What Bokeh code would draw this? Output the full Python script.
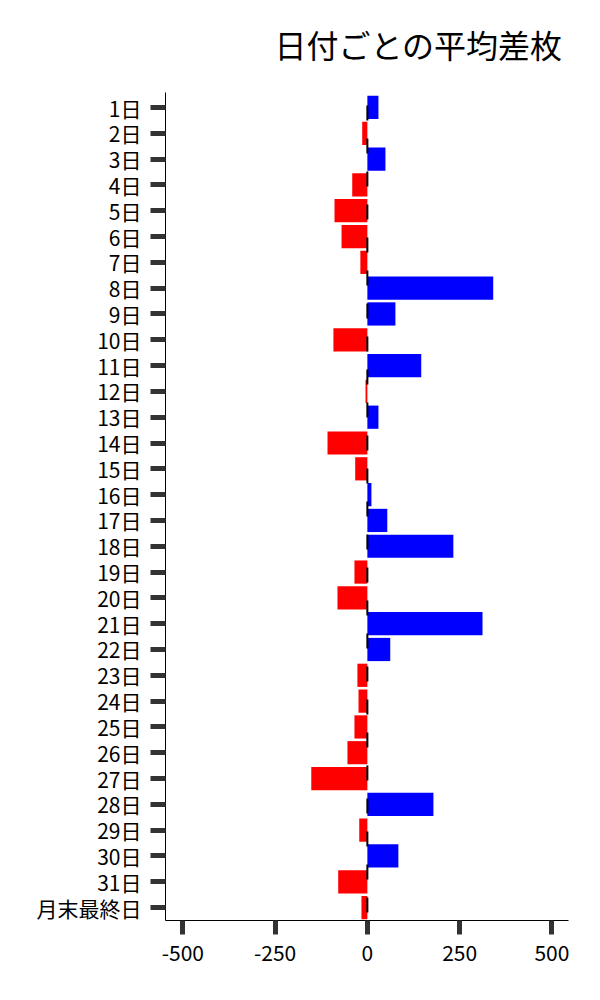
from bokeh.plotting import figure
from bokeh.models import Range1d, FixedTicker, Span, ColumnDataSource, Label
from bokeh.layouts import column
from bokeh.embed import file_html
from bokeh.resources import INLINE

days = ["1日", "2日", "3日", "4日", "5日", "6日", "7日", "8日", "9日", "10日",
        "11日", "12日", "13日", "14日", "15日", "16日", "17日", "18日", "19日", "20日",
        "21日", "22日", "23日", "24日", "25日", "26日", "27日", "28日", "29日", "30日",
        "31日", "月末最終日"]
avg_diff = [30, -14, 49, -41, -89, -70, -19, 341, 76, -92,
            146, -5, 30, -108, -33, 11, 54, 233, -35, -81,
            312, 62, -27, -24, -35, -54, -152, 179, -22, 84,
            -79, -16]
x_ticks = [-500, -250, 0, 250, 500]
x_tick_labels = ["-500", "-250", "0", "250", "500"]
title_text = "日付ごとの平均差枚"

FONT = "Noto Sans CJK JP"
W = 584
TOP = 92

# title strip (a figure of its own so the title can sit exactly where the reference has it)
t = figure(width=W, height=TOP, output_backend="svg", toolbar_location=None,
           x_axis_type=None, y_axis_type=None,
           x_range=Range1d(0, W), y_range=Range1d(0, TOP),
           min_border_left=0, min_border_right=0, min_border_top=0, min_border_bottom=0)
t.outline_line_color = None
t.grid.visible = False
t.add_layout(Label(x=366.5, y=TOP - 43, text=title_text, text_align="center",
                   text_baseline="middle", text_font=FONT, text_font_size="32px",
                   text_color="#000000"))

idx = list(range(len(days)))
colors = ["#0000FF" if v >= 0 else "#FF0000" for v in avg_diff]
src = ColumnDataSource(dict(y=idx, right=avg_diff, color=colors))

p = figure(width=W, height=984 - TOP, output_backend="svg", toolbar_location=None,
           x_range=Range1d(-547, 545), y_range=Range1d(31.5, -0.58),
           min_border_left=165, min_border_right=16, min_border_bottom=64,
           min_border_top=0)

p.hbar(y="y", left=0, right="right", height=0.9, color="color", line_color=None, source=src)

p.add_layout(Span(location=0, dimension="height", line_color="black", line_width=2,
                  line_dash="15 18", line_dash_offset=20))

p.grid.visible = False
p.outline_line_color = None

for ax in (p.xaxis[0], p.yaxis[0]):
    ax.axis_line_color = "black"
    ax.axis_line_width = 1
    ax.major_tick_line_color = "#333333"
    ax.major_tick_line_width = 5
    ax.major_tick_in = 0
    ax.minor_tick_line_color = None
    ax.major_label_text_font = FONT
    ax.major_label_text_font_size = "21px"
    ax.major_label_text_color = "#000000"

p.xaxis.ticker = FixedTicker(ticks=x_ticks)
p.xaxis.major_label_overrides = {tk: s for tk, s in zip(x_ticks, x_tick_labels)}
p.xaxis.major_tick_out = 14
p.xaxis.major_label_standoff = 10

p.yaxis.ticker = FixedTicker(ticks=idx)
p.yaxis.major_label_overrides = {i: d for i, d in enumerate(days)}
p.yaxis.major_tick_out = 15
p.yaxis.major_label_standoff = 9

layout = column(t, p, spacing=0)

open("out.html", "w").write(file_html(layout, INLINE))
